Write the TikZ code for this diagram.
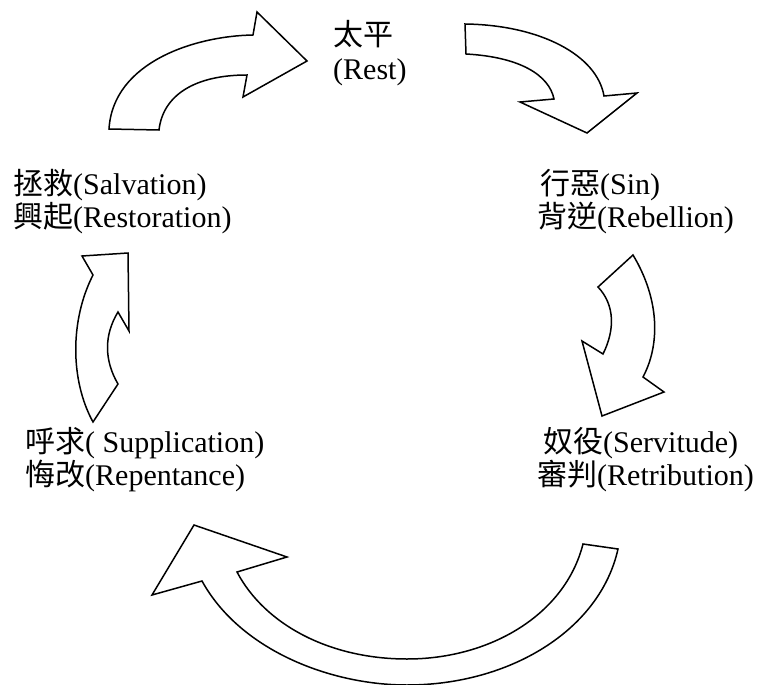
\documentclass[tikz,border=0pt]{standalone}
\usepackage{fontspec}
\setmainfont{Liberation Serif}
\newfontfamily\cjk{Noto Sans CJK TC}
\tikzset{
  bigarrow/.style={draw=black, fill=white, line width=1.5pt, line join=miter},
  lbl/.style={anchor=base west, inner sep=0pt, font=\fontsize{30}{33}\selectfont},
}
\begin{document}
\begin{tikzpicture}[x=1pt,y=-1pt]
\useasboundingbox (0,0) rectangle (766,685);
% arrow top-left (to Rest)
\draw[bigarrow] (109,129) .. controls (113,62) and (195,36) .. (253,35)
  -- (257,12) -- (307,61) -- (243,97) -- (247,75)
  .. controls (195,75) and (163,95) .. (159,130) -- cycle;
% arrow top-right
\draw[bigarrow] (465,24) .. controls (540,25) and (597,55) .. (604,96)
  -- (637,93) -- (587,133) -- (520,102) -- (554,99)
  .. controls (549,75) and (520,57) .. (466,54) -- cycle;
% arrow right (down)
\draw[bigarrow] (633,255) .. controls (660,300) and (660,345) .. (643,377)
  -- (664,392) -- (602,416) -- (582,341) -- (603,354)
  .. controls (615,330) and (615,305) .. (598,287) -- cycle;
% arrow left (up)
\draw[bigarrow] (93,422) .. controls (70,380) and (70,320) .. (93,275)
  -- (82,256) -- (128,253) -- (129,331) -- (118,312)
  .. controls (104,335) and (104,360) .. (118,384) -- cycle;
% arrow bottom
\draw[bigarrow] (618,549) .. controls (600,630) and (510,685) .. (407,685)
  .. controls (330,685) and (240,650) .. (202,581)
  -- (152,595) -- (194,525) -- (287,557) -- (237,572)
  .. controls (265,625) and (330,659) .. (407,659)
  .. controls (490,659) and (565,615) .. (583,544) -- cycle;
% labels
\node[lbl] (rest1) at (333,46) {{\cjk 太平}};
\node[lbl] (rest2) at (333,80) {(Rest)};
\node[lbl] (sal1) at (13,194) {{\cjk 拯救}(Salvation)};
\node[lbl] (sal2) at (13,227) {{\cjk 興起}(Restoration)};
\node[lbl] (sin1) at (540,194) {{\cjk 行惡}(Sin)};
\node[lbl] (sin2) at (537,227) {{\cjk 背逆}(Rebellion)};
\node[lbl] (sup1) at (25,452) {{\cjk 呼求}( Supplication)};
\node[lbl] (sup2) at (25,485) {{\cjk 悔改}(Repentance)};
\node[lbl] (ser1) at (543,452) {{\cjk 奴役}(Servitude)};
\node[lbl] (ser2) at (537,485) {{\cjk 審判}(Retribution)};
\end{tikzpicture}
\end{document}
